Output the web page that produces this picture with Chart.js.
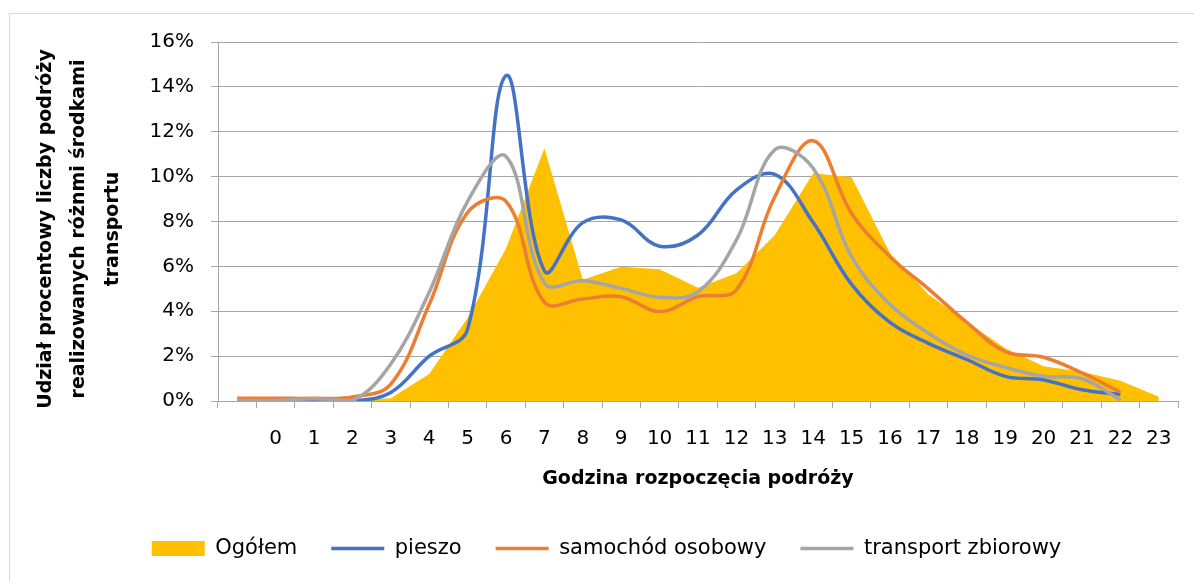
<!DOCTYPE html>
<html><head><meta charset="utf-8">
<script src="https://cdn.jsdelivr.net/npm/chart.js@4"></script>
<style>
html,body{margin:0;padding:0;background:#fff;overflow:hidden}
#wrap{position:relative;width:1194px;height:581px}
#frame{position:absolute;left:9px;top:13px;width:1300px;height:700px;border-left:1px solid #d9d9d9;border-top:1px solid #d9d9d9;pointer-events:none}
canvas{position:absolute;left:0;top:0}
</style></head><body>
<div id="wrap"><canvas id="c" width="1194" height="581"></canvas><div id="frame"></div></div>
<script>
// Categories (first category is blank in the original chart)
const hours = ['', '0','1','2','3','4','5','6','7','8','9','10','11','12','13','14','15','16','17','18','19','20','21','22','23'];
// Series values, % of trips
const ogolem    = [0, 0, 0, 0, 0.12, 1.2, 3.7, 6.8, 11.26, 5.4, 5.98, 5.87, 5.05, 5.69, 7.4, 10.15, 9.97, 6.58, 4.75, 3.53, 2.35, 1.55, 1.3, 0.9, 0.19];
const pieszo    = [0, 0, 0, 0, 0.38, 2.0, 3.2, 14.5, 5.8, 7.95, 8.07, 6.9, 7.4, 9.4, 10.1, 7.95, 5.2, 3.5, 2.57, 1.85, 1.1, 0.94, 0.5, 0.3];
const samochod  = [0.12, 0.12, 0.12, 0.18, 0.75, 4.3, 8.4, 8.9, 4.4, 4.55, 4.65, 3.98, 4.65, 4.95, 9.1, 11.6, 8.36, 6.43, 5.0, 3.5, 2.2, 1.95, 1.25, 0.4];
const transport = [0.02, 0.02, 0.1, 0.02, 1.65, 4.85, 8.9, 10.9, 5.25, 5.36, 5.02, 4.62, 4.87, 7.17, 11.2, 10.37, 6.43, 4.3, 3.02, 2.05, 1.5, 1.1, 0.99, 0.05];
// Axis ticks
const yTicks = [0, 2, 4, 6, 8, 10, 12, 14, 16];
const seriesNames = ['Ogółem', 'pieszo', 'samochód osobowy', 'transport zbiorowy'];
const yTitleLines = ['Udział procentowy liczby podróży', 'realizowanych różnmi środkami', 'transportu'];
const xTitle = 'Godzina rozpoczęcia podróży';

Chart.defaults.font.family = '"DejaVu Sans", sans-serif';
Chart.defaults.color = '#000';

const yTitlePlugin = {
  id: 'yTitle',
  afterDraw(chart) {
    const ctx = chart.ctx;
    const xs = [46, 79, 113];
    ctx.save();
    ctx.font = 'bold 19px "DejaVu Sans"';
    ctx.fillStyle = '#000';
    ctx.textAlign = 'center';
    ctx.textBaseline = 'middle';
    yTitleLines.forEach((t, i) => {
      ctx.save();
      ctx.translate(xs[i], 229);
      ctx.rotate(-Math.PI / 2);
      ctx.fillText(t, 0, 0);
      ctx.restore();
    });
    ctx.restore();
  }
};

const lineDs = (label, data, color, order) => ({
  type: 'line', label, data, borderColor: color, backgroundColor: color,
  borderWidth: 3.5, pointRadius: 0, pointHoverRadius: 0, tension: 0.38,
  fill: false, pointStyle: 'line', order
});

new Chart(document.getElementById('c'), {
  type: 'line',
  data: {
    labels: hours,
    datasets: [
      { label: seriesNames[0], data: ogolem, backgroundColor: '#FFC000', borderColor: '#FFC000',
        borderWidth: 0, pointRadius: 0, fill: 'origin', tension: 0, pointStyle: 'rect', order: 4 },
      lineDs(seriesNames[1], pieszo, '#4472C4', 3),
      lineDs(seriesNames[2], samochod, '#ED7D31', 2),
      lineDs(seriesNames[3], transport, '#A5A5A5', 1)
    ]
  },
  options: {
    responsive: false,
    animation: false,
    devicePixelRatio: 1,
    layout: { padding: { left: 35, right: 16, top: 42, bottom: 12 } },
    plugins: {
      tooltip: { enabled: false },
      legend: {
        position: 'bottom',
        labels: {
          usePointStyle: true, pointStyleWidth: 53, boxHeight: 15,
          padding: 34, font: { size: 21 }, color: '#000',
          sort: (a, b) => a.datasetIndex - b.datasetIndex
        }
      }
    },
    scales: {
      x: {
        type: 'category', offset: true,
        grid: { offset: true, drawOnChartArea: false, tickLength: 7, color: '#a6a6a6' },
        border: { color: '#a6a6a6' },
        ticks: { font: { size: 20 }, color: '#000', padding: 19, maxRotation: 0, autoSkip: false },
        title: { display: true, text: xTitle, font: { size: 19, weight: 'bold' }, color: '#000', padding: { top: 0, bottom: 14 } },
        afterFit(s) { s.height = 103; }
      },
      y: {
        min: 0, max: 16,
        afterBuildTicks(s) { s.ticks = yTicks.map(v => ({ value: v })); },
        grid: { color: '#a6a6a6', tickLength: 7 },
        border: { color: '#a6a6a6' },
        ticks: { font: { size: 20 }, color: '#000', padding: 17, callback: v => v + '%' },
        afterFit(s) { s.width = 183; }
      }
    }
  },
  plugins: [yTitlePlugin]
});
</script>
</body></html>
